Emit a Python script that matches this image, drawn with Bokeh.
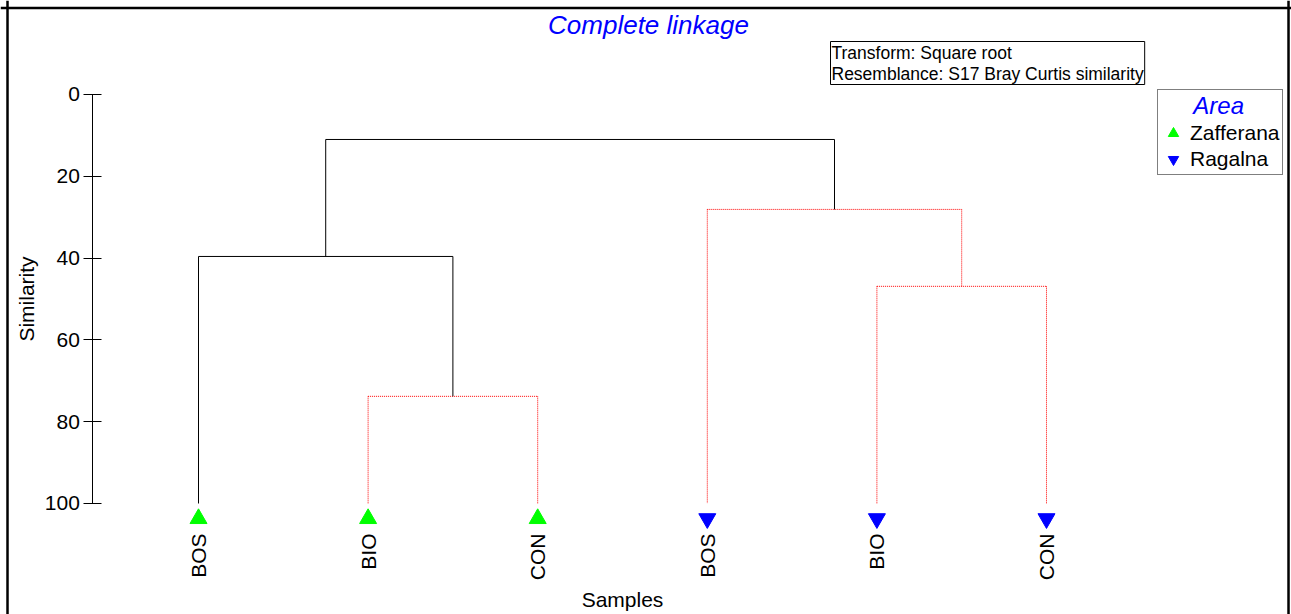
import math
from bokeh.plotting import figure
from bokeh.models import (Range1d, FixedTicker, Label, Legend, LegendItem, Span,
                          LinearAxis)
from bokeh.embed import file_html
from bokeh.resources import INLINE

# ---------------- data ----------------
leaf_labels = ["BOS", "BIO", "CON", "BOS", "BIO", "CON"]
leaf_area = ["Zafferana", "Zafferana", "Zafferana", "Ragalna", "Ragalna", "Ragalna"]
area_names = ["Zafferana", "Ragalna"]
area_colors = ["#00FF00", "#0000FF"]
area_markers = ["triangle", "inverted_triangle"]
# linkage: node ids 0..5 are leaves, 6.. are merges in order
merge_left = [1, 0, 4, 3, 7]
merge_right = [2, 6, 5, 8, 9]
merge_similarity = [73.8, 39.6, 46.9, 28.1, 11.0]
merge_significant = [False, True, False, False, True]
y_ticks = [0, 20, 40, 60, 80, 100]

FONT = "Liberation Sans"
W, H = 1291, 614

# ---------------- dendrogram geometry ----------------
n = len(leaf_labels)
node_x = [float(i + 1) for i in range(n)]
node_y = [100.0] * n
solid = dict(x0=[], y0=[], x1=[], y1=[])
dotted = dict(x0=[], y0=[], x1=[], y1=[])
for a, b, s, sig in zip(merge_left, merge_right, merge_similarity, merge_significant):
    xa, ya, xb, yb = node_x[a], node_y[a], node_x[b], node_y[b]
    t = solid if sig else dotted
    for seg in [(xa, s, xb, s), (xa, s, xa, ya), (xb, s, xb, yb)]:
        t["x0"].append(seg[0]); t["y0"].append(seg[1])
        t["x1"].append(seg[2]); t["y1"].append(seg[3])
    node_x.append((xa + xb) / 2)
    node_y.append(s)

x_range = Range1d(-0.1675, 7.4446)
y_range = Range1d(127.14, -22.98)

p = figure(width=W, height=H, output_backend="svg", toolbar_location=None,
           x_range=x_range, y_range=y_range, x_axis_type=None, y_axis_type=None,
           min_border=0)
p.grid.visible = False
p.outline_line_color = None
p.background_fill_color = "white"
p.border_fill_color = "white"

p.segment(x0="x0", y0="y0", x1="x1", y1="y1", source=dotted,
          line_color="#FF0000", line_width=1, line_dash="1 1")
p.segment(x0="x0", y0="y0", x1="x1", y1="y1", source=solid,
          line_color="black", line_width=1)

# leaf markers
marker_y = 103.7
items = []
for name, col, mk in zip(area_names, area_colors, area_markers):
    xs = [node_x[i] for i in range(n) if leaf_area[i] == name]
    r = p.scatter(x=xs, y=[marker_y] * len(xs), marker=mk, size=17,
                  fill_color=col, line_color=col)
    items.append(LegendItem(label=name, renderers=[r]))

# y axis
yaxis = LinearAxis(ticker=FixedTicker(ticks=y_ticks), bounds=(0, 100),
                   fixed_location=0.377, axis_label="Similarity")
yaxis.major_tick_in = 9
yaxis.major_tick_out = 9
yaxis.minor_tick_line_color = None
yaxis.major_label_standoff = 4
yaxis.major_label_text_font = FONT
yaxis.major_label_text_font_size = "21px"
yaxis.major_label_text_color = "black"
yaxis.axis_label_text_font = FONT
yaxis.axis_label_text_font_size = "21px"
yaxis.axis_label_text_font_style = "normal"
yaxis.axis_label_text_color = "black"
yaxis.axis_label_standoff = 3
yaxis.axis_line_color = "black"
yaxis.major_tick_line_color = "black"
p.add_layout(yaxis, "left")

# x axis (leaf names)
xaxis = LinearAxis(ticker=FixedTicker(ticks=node_x[:n]), bounds=(1, n),
                   fixed_location=100, axis_label="Samples",
                   major_label_overrides={node_x[i]: leaf_labels[i] for i in range(n)})
xaxis.axis_line_color = None
xaxis.major_tick_line_color = None
xaxis.minor_tick_line_color = None
xaxis.major_tick_out = 0
xaxis.major_tick_in = 0
xaxis.major_label_orientation = math.pi / 2
xaxis.major_label_standoff = 30
xaxis.major_label_text_font = FONT
xaxis.major_label_text_font_size = "21px"
xaxis.major_label_text_color = "black"
xaxis.axis_label_text_font = FONT
xaxis.axis_label_text_font_size = "21px"
xaxis.axis_label_text_font_style = "normal"
xaxis.axis_label_text_color = "black"
xaxis.axis_label_standoff = 5
p.add_layout(xaxis, "below")

# title
p.add_layout(Label(x=648, y=H - 24, x_units="screen", y_units="screen",
                   text="Complete linkage", text_align="center", text_baseline="middle",
                   text_font=FONT, text_font_size="26px", text_font_style="italic",
                   text_color="#0000FF"))

# info box
p.add_layout(Label(x=830, y=H - 41, x_units="screen", y_units="screen",
                   text="Transform: Square root\nResemblance: S17 Bray Curtis similarity",
                   anchor="top_left", text_font=FONT, text_font_size="17.5px",
                   text_line_height=1.05,
                   text_color="black", border_line_color="black", border_line_width=1,
                   background_fill_color="white", padding=1))

# legend (title pushed to the centre with non-breaking spaces)
legend = Legend(items=items, location=(1157, H - 175),
                title="\u00a0\u00a0\u00a0\u00a0\u00a0Area",
                title_text_font=FONT, title_text_font_size="24px",
                title_text_font_style="italic", title_text_color="#0000FF",
                label_text_font=FONT, label_text_font_size="21px",
                label_text_color="black", border_line_color="black",
                border_line_width=1, background_fill_alpha=1.0, padding=2,
                spacing=0, glyph_width=26, glyph_height=26, label_standoff=4,
                margin=0, title_standoff=0)
p.add_layout(legend)

# outer frame (left, top, right)
p.add_layout(Span(location=-0.1262, dimension="height", line_color="black", line_width=2.5))
p.add_layout(Span(location=-21.15, dimension="width", line_color="black", line_width=2.5))
p.add_layout(Span(location=7.427, dimension="height", line_color="black", line_width=2.5))

open("out.html", "w").write(file_html(p, INLINE))
